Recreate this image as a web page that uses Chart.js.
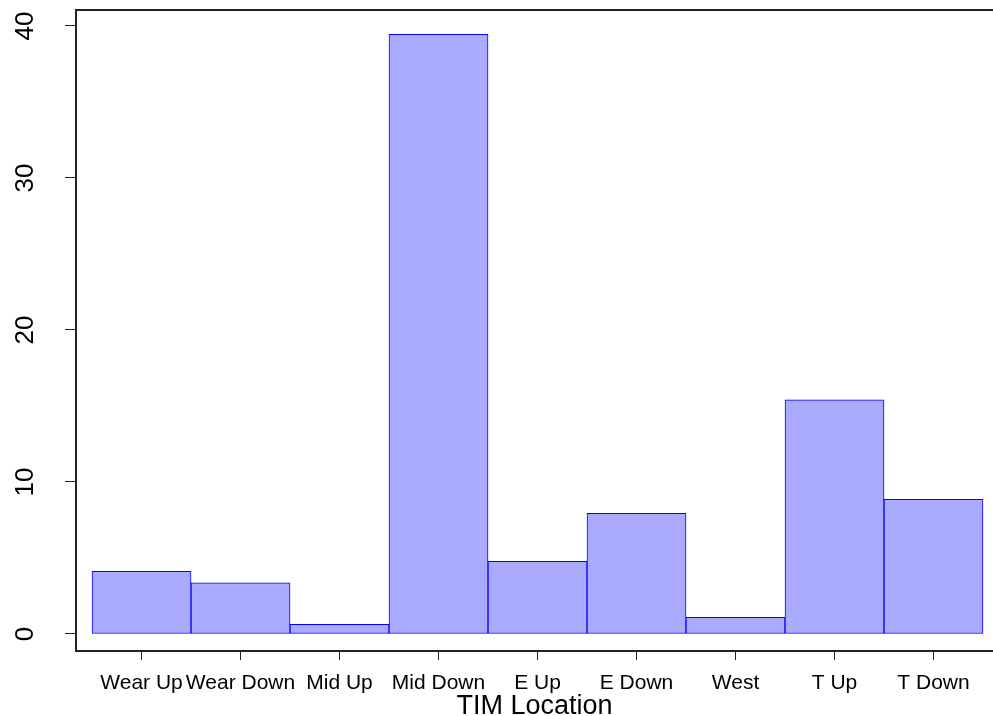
<!DOCTYPE html>
<html>
<head>
<meta charset="utf-8">
<script src="https://cdn.jsdelivr.net/npm/chart.js@4/dist/chart.umd.min.js"></script>
<style>
  html, body { margin: 0; padding: 0; background: #fff; }
  #wrap { width: 993px; height: 716px; position: relative; }
</style>
</head>
<body>
<div id="wrap"><canvas id="barChart"></canvas></div>
<script>
const categories = ["Wear Up", "Wear Down", "Mid Up", "Mid Down", "E Up", "E Down", "West", "T Up", "T Down"];
const values = [4.12, 3.36, 0.64, 39.45, 4.78, 7.94, 1.10, 15.41, 8.86];
const yTicks = [0, 10, 20, 30, 40];
const xTitle = "TIM Location";

const FONT = "'Liberation Sans', Arial, sans-serif";

// R draws the y tick labels rotated; draw them at the scale's own tick positions
const rotatedYLabels = {
	id: "rotatedYLabels",
	afterDraw(chart) {
		const ctx = chart.ctx;
		const y = chart.scales.y;
		ctx.save();
		ctx.font = "26px " + FONT;
		ctx.fillStyle = "#000";
		ctx.textAlign = "center";
		ctx.textBaseline = "alphabetic";
		yTicks.forEach(v => {
			ctx.save();
			ctx.translate(33, y.getPixelForValue(v));
			ctx.rotate(-Math.PI / 2);
			ctx.fillText(String(v), 0, 0);
			ctx.restore();
		});
		ctx.restore();
	}
};

new Chart(document.getElementById("barChart").getContext("2d"), {
	type: "bar",
	data: {
		datasets: [{
			data: values.map((v, i) => ({ x: i + 0.5, y: v })),
			backgroundColor: "#AAAAFF",
			borderColor: "#0000FF",
			borderWidth: 1,
			borderSkipped: false,
			barPercentage: 1,
			categoryPercentage: 1
		}]
	},
	options: {
		responsive: true,
		maintainAspectRatio: false,
		animation: false,
		layout: { padding: 0 },
		plugins: {
			legend: { display: false },
			tooltip: { enabled: false }
		},
		scales: {
			x: {
				type: "linear",
				position: "bottom",
				offset: false,
				min: -0.162,
				max: 9.101,
				afterBuildTicks: s => { s.ticks = categories.map((c, i) => ({ value: i + 0.5 })); },
				afterFit: s => { s.height = 65; },
				ticks: {
					color: "#000",
					font: { family: FONT, size: 21 },
					padding: 11,
					maxRotation: 0,
					autoSkip: false,
					callback: (v, i) => categories[i]
				},
				grid: { offset: false, drawOnChartArea: false, drawTicks: true, tickLength: 9, color: "#222", lineWidth: 1 },
				border: { display: true, color: "#222", width: 2 },
				title: {
					display: true,
					text: xTitle,
					color: "#000",
					font: { family: FONT, size: 27 },
					padding: { top: 0, bottom: -7 }
				}
			},
			x2: {
				type: "linear",
				position: "top",
				afterFit: s => { s.height = 10; },
				ticks: { display: false },
				grid: { display: false },
				border: { display: true, color: "#222", width: 2 }
			},
			y: {
				min: -1.12,
				max: 41.05,
				afterBuildTicks: s => { s.ticks = yTicks.map(v => ({ value: v })); },
				afterFit: s => { s.width = 76; },
				ticks: { display: false },
				grid: { drawOnChartArea: false, drawTicks: true, tickLength: 11, color: "#222", lineWidth: 1 },
				border: { display: true, color: "#222", width: 2 }
			}
		}
	},
	plugins: [rotatedYLabels]
});
</script>
</body>
</html>
